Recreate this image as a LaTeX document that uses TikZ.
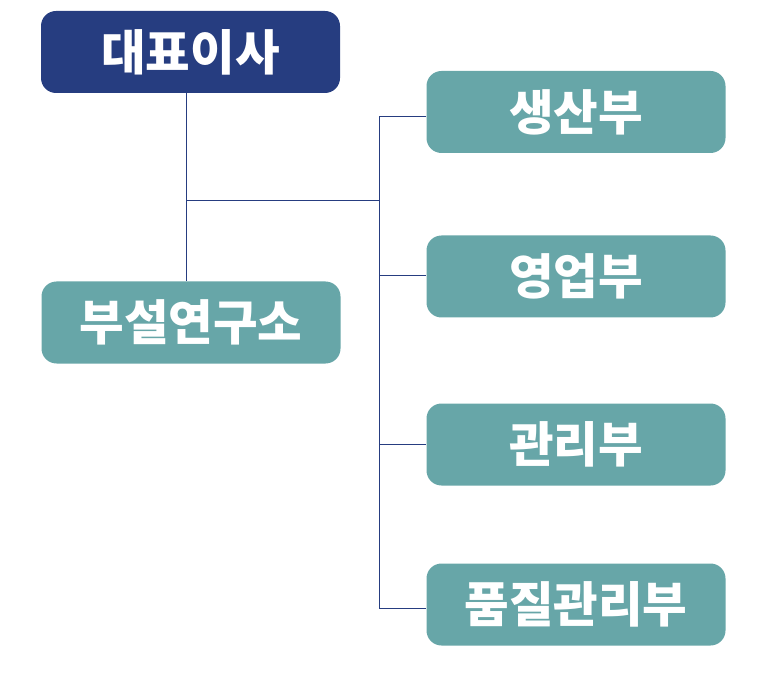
\documentclass[tikz,border=0pt]{standalone}
\usepackage{fontspec}
\setmainfont{Noto Sans CJK KR}
\definecolor{navy}{HTML}{263D80}
\definecolor{teal1}{HTML}{67A6A8}
\begin{document}
\begin{tikzpicture}[x=1pt,y=-1pt,
  box/.style={rounded corners=15pt,minimum width=299pt,minimum height=82pt,inner sep=0pt,text=white,font=\fontsize{48.5}{52}\selectfont\bfseries},
  topbox/.style={box,fill=navy},
  deptbox/.style={box,fill=teal1},
  conn/.style={draw=navy,line width=1pt}]
\useasboundingbox (0,0) rectangle (768,700);
\node[topbox] (ceo) at (190.5,52) {대표이사};
\node[deptbox] (lab) at (191,322.5) {부설연구소};
\node[deptbox] (prod) at (576,112) {생산부};
\node[deptbox] (sales) at (576,276.5) {영업부};
\node[deptbox] (admin) at (576,444.5) {관리부};
\node[deptbox] (qual) at (576,604.5) {품질관리부};
\coordinate (j1) at (186,201);
\coordinate (j2) at (379,201);
\draw[conn] (ceo.south -| j1) -- (lab.north -| j1);
\draw[conn] (j1) -- (j2);
\draw[conn] (prod.west |- 0,117) -- (379,117) -- (379,608) -- (qual.west |- 0,608);
\draw[conn] (379,276) -- (sales.west |- 0,276);
\draw[conn] (379,444) -- (admin.west |- 0,444);
\end{tikzpicture}
\end{document}
